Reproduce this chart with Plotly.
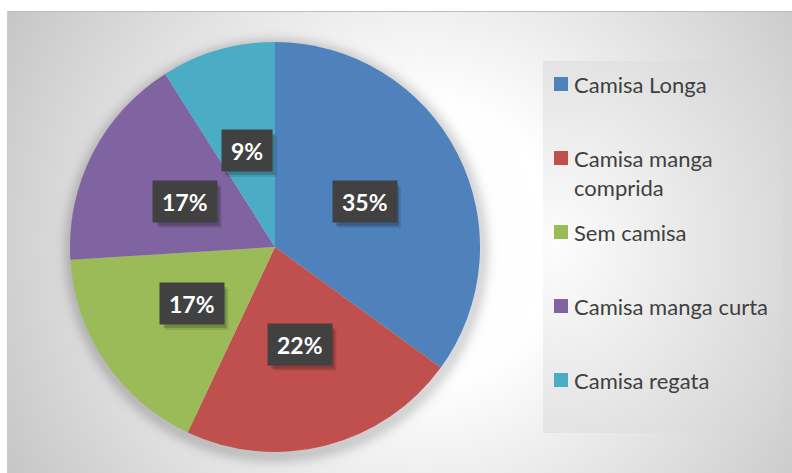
import math, zlib, struct, base64
import numpy as np
import plotly.graph_objects as go

# ---------------- data ----------------
categories = ["Camisa Longa", "Camisa manga comprida", "Sem camisa", "Camisa manga curta", "Camisa regata"]
legend_text = ["Camisa Longa", "Camisa manga<br>comprida", "Sem camisa", "Camisa manga curta", "Camisa regata"]
values = [35, 22, 17, 17, 9]
colors = ["#4F81BD", "#C0504D", "#9BBB59", "#8064A2", "#4BACC6"]

# ---------------- layout geometry (pixels) ----------------
W, H = 792, 473
PCX, PCY, PR = 275, 247, 205          # pie centre / radius
LABEL_R = 0.49                         # label distance as fraction of radius
FRAME_X, FRAME_Y = 7, 11
LEG_BOX = (543, 61, 782, 432)
LEG_SQ_X, LEG_TXT_X, LEG_Y0, LEG_DY, LEG_SQ = 554, 572, 84, 74, 14

def px(x):
    return x / W

def py(y):
    return 1 - y / H

# ---------------- background image (gradient + shadow) ----------------
yy, xx = np.mgrid[0:H, 0:W].astype(float)
d = np.hypot(xx - 420, yy - 242)
img = 255 - np.clip((d - 140) * 0.17, 0, 60)
e = np.hypot(xx - PCX - 1, yy - PCY - 3) - PR
img -= 38 * np.exp(-(np.clip(e, 0, None) / 9.0) ** 2)
x0, y0, x1, y1 = LEG_BOX
lm = (xx >= x0) & (xx <= x1) & (yy >= y0) & (yy <= y1)
d2 = np.hypot(xx - 555, (yy - 246) * 0.9)
img[lm] = (253 - np.clip(d2 * 0.15, 0, 60))[lm]
img[yy < FRAME_Y] = 255
img[xx < FRAME_X] = 255
img[FRAME_Y, FRAME_X:] = 190
img[FRAME_Y:, FRAME_X] = 205
img = np.clip(img, 0, 255).astype(np.uint8)

def png_bytes(a):
    h, w = a.shape
    raw = b"".join(b"\x00" + a[r].tobytes() for r in range(h))
    def chunk(t, data):
        c = struct.pack(">I", len(data)) + t + data
        return c + struct.pack(">I", zlib.crc32(t + data) & 0xffffffff)
    return (b"\x89PNG\r\n\x1a\n" + chunk(b"IHDR", struct.pack(">IIBBBBB", w, h, 8, 0, 0, 0, 0))
            + chunk(b"IDAT", zlib.compress(raw, 9)) + chunk(b"IEND", b""))

bg_uri = "data:image/png;base64," + base64.b64encode(png_bytes(img)).decode()

# ---------------- figure ----------------
fig = go.Figure()
fig.add_trace(go.Pie(
    labels=categories, values=values, sort=False, direction="clockwise", rotation=0,
    marker=dict(colors=colors, line=dict(width=0)),
    textinfo="none", hoverinfo="label+percent", showlegend=False,
    domain=dict(x=[px(PCX - PR), px(PCX + PR)], y=[py(PCY + PR), py(PCY - PR)]),
))

annotations = []
shapes = []
total = sum(values)
cum = 0
for v in values:
    a = math.radians((cum + v / 2) / total * 360)
    cum += v
    lx = PCX + LABEL_R * PR * math.sin(a)
    ly = PCY - LABEL_R * PR * math.cos(a)
    txt = f"{round(v / total * 100)}%"
    bw, bh = 24 + 13 * len(txt), 41
    # soft drop shadow behind the label box
    for off, op in ((5, 0.10), (3, 0.18)):
        shapes.append(dict(type="rect", xref="paper", yref="paper", layer="above",
                           x0=px(lx - bw / 2 + off), x1=px(lx + bw / 2 + off),
                           y0=py(ly + bh / 2 + off + 1), y1=py(ly - bh / 2 + off + 1),
                           fillcolor=f"rgba(0,0,0,{op})", line=dict(width=0)))
    annotations.append(dict(x=px(lx), y=py(ly), xref="paper", yref="paper", showarrow=False,
                            xanchor="center", yanchor="middle", height=23, borderpad=9,
                            text=f"<b>{txt}</b>", bgcolor="#414141",
                            font=dict(family="Lato", size=23, color="white")))

for i, (t, c) in enumerate(zip(legend_text, colors)):
    yc = LEG_Y0 + i * LEG_DY
    shapes.append(dict(type="rect", xref="paper", yref="paper",
                       x0=px(LEG_SQ_X), x1=px(LEG_SQ_X + LEG_SQ),
                       y0=py(yc + LEG_SQ / 2), y1=py(yc - LEG_SQ / 2),
                       fillcolor=c, line=dict(width=0)))
    annotations.append(dict(x=px(LEG_TXT_X), y=py(yc - 15), xref="paper", yref="paper",
                            text=t, showarrow=False, xanchor="left", yanchor="top", align="left",
                            font=dict(family="Lato", size=22, color="#404040")))

fig.update_layout(
    width=W, height=H, margin=dict(l=0, r=0, t=0, b=0),
    paper_bgcolor="white", plot_bgcolor="white",
    images=[dict(source=bg_uri, xref="paper", yref="paper", x=0, y=1, sizex=1, sizey=1,
                 sizing="stretch", layer="below", xanchor="left", yanchor="top")],
    annotations=annotations, shapes=shapes,
)
fig.write_html("out.html")
